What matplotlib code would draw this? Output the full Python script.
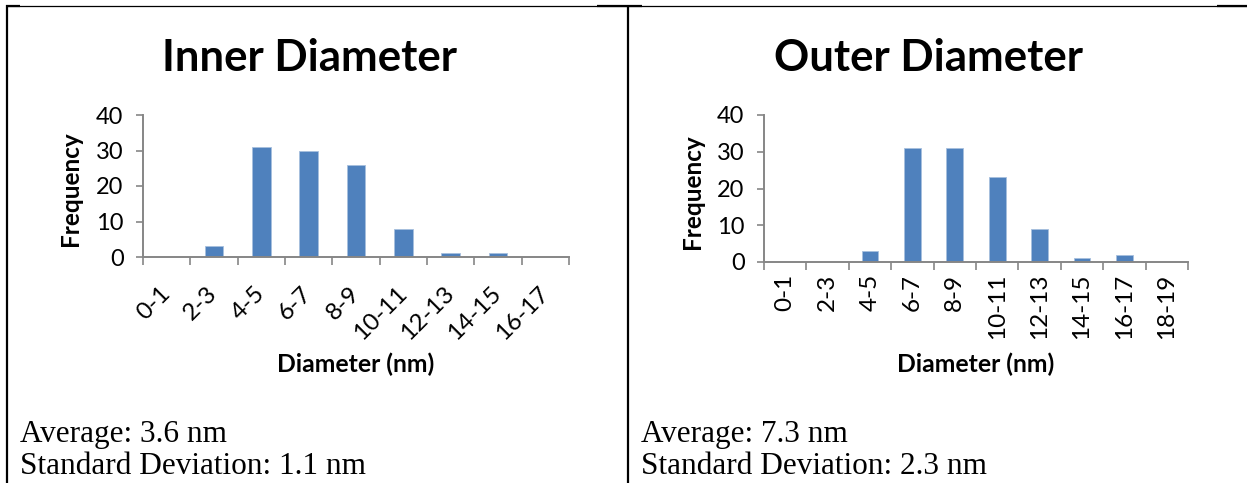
import matplotlib
matplotlib.use("Agg")
import matplotlib.pyplot as plt
from matplotlib.lines import Line2D

# --- data ---
inner_bins = ["0-1", "2-3", "4-5", "6-7", "8-9", "10-11", "12-13", "14-15", "16-17"]
inner_freq = [0, 3, 31, 30, 26, 8, 1, 1, 0]
inner_stats = ["Average: 3.6 nm", "Standard Deviation: 1.1 nm"]

outer_bins = ["0-1", "2-3", "4-5", "6-7", "8-9", "10-11", "12-13", "14-15", "16-17", "18-19"]
outer_freq = [0, 0, 3, 31, 31, 23, 9, 1, 2, 0]
outer_stats = ["Average: 7.3 nm", "Standard Deviation: 2.3 nm"]

yticks = [0, 10, 20, 30, 40]

BAR = "#4F81BD"
AXIS = "#868686"
SANS = ["Lato", "DejaVu Sans"]
SERIF = ["Liberation Serif", "DejaVu Serif"]

W, H = 1247, 483
fig = plt.figure(figsize=(W / 100, H / 100), dpi=100)


def fx(x):
    return x / W


def fy(y):
    return 1 - y / H


def draw_panel(left, top, right, bottom, bins, freq, title, stats, rot, cx, ylab_x):
    ax = fig.add_axes([fx(left), fy(bottom), fx(right - left), (bottom - top) / H])
    n = len(bins)
    xs = list(range(n))
    ax.bar(xs, freq, width=0.4, color=BAR, edgecolor="#A7BFDE", linewidth=0.6, zorder=2)
    ax.set_xlim(-0.5, n - 0.5)
    ax.set_ylim(0, 40)
    ax.set_yticks(yticks)
    ax.set_yticklabels([str(v) for v in yticks], fontsize=17, family=SANS)

    # category labels at centres, tick marks between categories
    ax.set_xticks(xs)
    ax.set_xticks([i - 0.5 for i in range(n + 1)], minor=True)
    if rot == 45:
        ax.set_xticklabels(bins, rotation=45, ha="right", va="center",
                           rotation_mode="anchor", fontsize=17.5, family=SANS)
        ax.tick_params(axis="x", which="major", length=0, pad=24)
    else:
        ax.set_xticklabels(bins, rotation=90, ha="center", va="top",
                           fontsize=17.5, family=SANS)
        ax.tick_params(axis="x", which="major", length=0, pad=8.5)
    ax.tick_params(axis="x", which="minor", length=5.5, width=1.2, color=AXIS)
    ax.tick_params(axis="y", length=5, width=1.2, color=AXIS, pad=9)

    for s in ("top", "right"):
        ax.spines[s].set_visible(False)
    for s in ("left", "bottom"):
        ax.spines[s].set_color(AXIS)
        ax.spines[s].set_linewidth(1.4)

    fig.text(fx(cx), fy(58), title, ha="center", va="center",
             fontsize=31.5, fontweight="bold", family=SANS)
    fig.text(fx(ylab_x), fy((top + bottom) / 2 + 3), "Frequency", rotation=90,
             ha="center", va="center", fontsize=17.5, fontweight="bold", family=SANS)
    fig.text(fx((left + right) / 2), fy(364), "Diameter (nm)", ha="center", va="center",
             fontsize=17.8, fontweight="bold", family=SANS)
    fig.text(fx(left - 123), fy(442), stats[0], ha="left", va="baseline",
             fontsize=22.5, family=SERIF)
    fig.text(fx(left - 123), fy(474), stats[1], ha="left", va="baseline",
             fontsize=22.5, family=SERIF)
    return ax


draw_panel(143, 115, 569, 257, inner_bins, inner_freq, "Inner Diameter",
           inner_stats, 45, 309, 71)
draw_panel(764, 115, 1188, 262, outer_bins, outer_freq, "Outer Diameter",
           outer_stats, 90, 929, 692)

# table borders round the two cells
def rule(x0, y0, x1, y1, w):
    fig.add_artist(Line2D([fx(x0), fx(x1)], [fy(y0), fy(y1)], color="black",
                          linewidth=w, solid_capstyle="butt"))

rule(6, 5.5, W, 5.5, 0.9)
rule(6, 6, 20, 6, 1.6)
rule(597, 6, 642, 6, 1.6)
rule(1217, 6, W, 6, 1.6)
rule(7, 5, 7, H, 1.6)
rule(628, 5, 628, H, 1.6)

fig.savefig("out.png", dpi=100)
